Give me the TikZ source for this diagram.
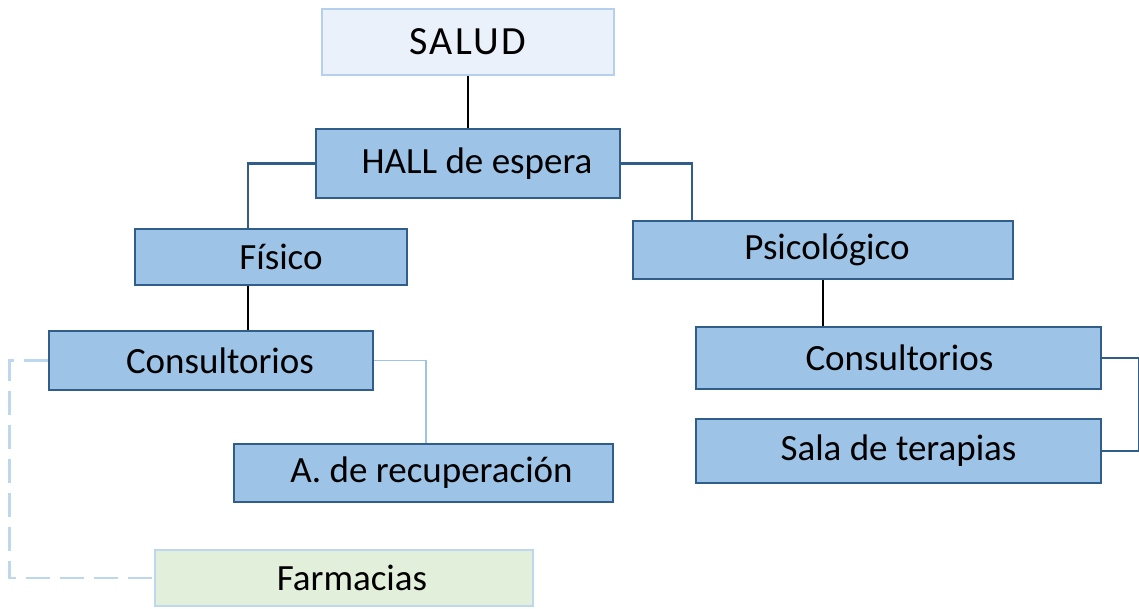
\documentclass[tikz,border=0pt]{standalone}
\usepackage{fontspec}
\setmainfont{Carlito}
\newfontfamily\saludfont[LetterSpace=6]{Carlito}
\definecolor{lb}{HTML}{9DC3E6}
\definecolor{dkb}{HTML}{315D8A}
\definecolor{sfill}{HTML}{EAF1FA}
\definecolor{sdraw}{HTML}{B4D0EE}
\definecolor{gfill}{HTML}{E2EFDA}
\definecolor{gdraw}{HTML}{BDD7EE}
\definecolor{lline}{HTML}{9DC3E6}
\tikzset{
  box/.style={rectangle, inner sep=0pt, line width=2.8pt, font=\fontsize{37}{40}\selectfont, text=black},
  bluebox/.style={box, draw=dkb, fill=lb},
  saludbox/.style={box, draw=sdraw, fill=sfill, font=\saludfont\fontsize{40}{44}\selectfont},
  greenbox/.style={box, draw=gdraw, fill=gfill},
  blackline/.style={draw=black, line width=2pt},
  darkline/.style={draw=dkb, line width=2.2pt},
  lightline/.style={draw=lline, line width=1.6pt},
  dashline/.style={draw=gdraw, line width=2.5pt, dash pattern=on 24pt off 10pt}
}
\begin{document}
\begin{tikzpicture}[x=1pt,y=-1pt]
\useasboundingbox (0,0) rectangle (1139,608);
\node[saludbox, minimum width=292pt, minimum height=66pt] (salud) at (468,42) {SALUD};
\node[bluebox, minimum width=304pt, minimum height=69pt] (hall) at (468,163.5) {\hspace*{18pt}HALL de espera};
\node[bluebox, minimum width=272pt, minimum height=56pt] (fis) at (271,257) {\hspace*{20pt}Físico};
\node[bluebox, minimum width=380pt, minimum height=58pt] (psi) at (823,250) {\hspace*{8pt}Psicológico};
\node[bluebox, minimum width=324pt, minimum height=59pt] (conL) at (211,360.5) {\hspace*{18pt}Consultorios};
\node[bluebox, minimum width=379pt, minimum height=58pt] (rec) at (423.5,473) {\hspace*{16pt}A. de recuperación};
\node[greenbox, minimum width=378pt, minimum height=56pt] (far) at (344,578) {\hspace*{16pt}Farmacias};
\node[bluebox, minimum width=405pt, minimum height=62pt] (conR) at (898.5,358) {\hspace*{2pt}Consultorios};
\node[bluebox, minimum width=405pt, minimum height=64pt] (sala) at (898.5,451) {Sala de terapias};

\draw[blackline] (salud.south) -- (hall.north);
\draw[darkline] (hall.west) -| ([xshift=-23pt]fis.north);
\draw[darkline] (hall.east) -| ([xshift=-131pt]psi.north);
\draw[blackline] ([xshift=-23pt]fis.south) -- ([xshift=-23pt]fis.south |- conL.north);
\draw[blackline] (psi.south) -- (psi.south |- conR.north);
\draw[lightline] (conL.east) -| ([xshift=2.5pt]rec.north);
\draw[dashline] (conL.west) -- ++(-38,0) |- (far.west);
\draw[darkline] (conR.east) -- ++(37,0) |- (sala.east);
\end{tikzpicture}
\end{document}
